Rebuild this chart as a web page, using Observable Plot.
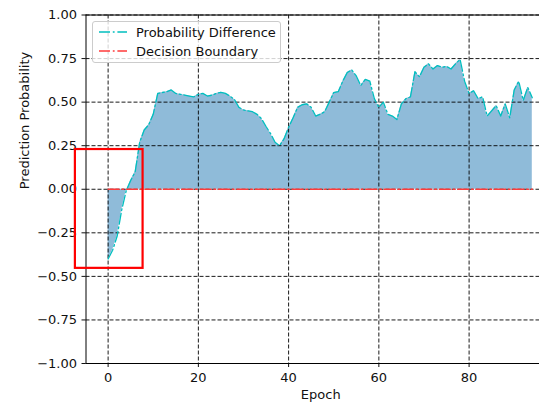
<!DOCTYPE html>
<html>
<head>
<meta charset="utf-8">
<script src="https://cdn.jsdelivr.net/npm/d3@7"></script>
<script src="https://cdn.jsdelivr.net/npm/@observablehq/plot@0.6"></script>
<style>
  body { margin: 0; background: #fff; font-family: "DejaVu Sans", sans-serif; }
  #wrap { position: relative; width: 539px; height: 403px; overflow: hidden; }
  #wrap svg { display: block; }
  .legend { position: absolute; left: 92px; top: 21px; width: 187px; height: 40px;
            border: 1px solid #cccccc; border-radius: 3px; background: rgba(255,255,255,0.8);
            font-size: 13px; color: #111; }
  .legend .row { position: absolute; left: 6px; height: 16px; display: flex; align-items: center; white-space: nowrap; }
  .legend .row svg { margin-right: 9px; }
</style>
</head>
<body>
<div id="wrap"></div>
<script>
// Difference in predicted probability per training epoch
const epochs = d3.range(0, 95);
const probDiff = [
  -0.40, -0.35, -0.27, -0.12, -0.01, 0.05, 0.10, 0.27, 0.34, 0.37,
   0.43,  0.55,  0.555, 0.56,  0.57, 0.55, 0.545, 0.54, 0.535, 0.53,
   0.545, 0.55,  0.535, 0.54,  0.55, 0.556, 0.55, 0.535, 0.515, 0.47,
   0.455, 0.45,  0.445, 0.43,  0.405, 0.36, 0.32, 0.27, 0.25, 0.29,
   0.355, 0.41,  0.47,  0.485, 0.49, 0.47, 0.42, 0.43, 0.445, 0.50,
   0.555, 0.56,  0.62,  0.67,  0.685, 0.65, 0.595, 0.63, 0.62, 0.52,
   0.47,  0.50,  0.43,  0.42,  0.40, 0.49, 0.52, 0.53, 0.675, 0.645,
   0.70,  0.72,  0.69,  0.71,  0.70, 0.705, 0.69, 0.72, 0.745, 0.62,
   0.55,  0.565, 0.52,  0.53,  0.42, 0.45, 0.48, 0.42, 0.49, 0.41,
   0.57,  0.62,  0.51,  0.585, 0.525
];
const decisionBoundary = epochs.map(() => 0);

// Highlighted early-training region (data units)
const highlightEpochs = [-7.25, 7.75];
const highlightProb = [-0.454, 0.228];

const xTicks = [0, 20, 40, 60, 80];
const yTicks = [-1, -0.75, -0.5, -0.25, 0, 0.25, 0.5, 0.75, 1];
const yTickLabels = ["\u22121.00", "\u22120.75", "\u22120.50", "\u22120.25", "0.00", "0.25", "0.50", "0.75", "1.00"];

const series = epochs.map((e, i) => ({epoch: e, diff: probDiff[i], boundary: decisionBoundary[i]}));

const xDomain = [-4.9, 95.6];
const gridStyle = {stroke: "#000", strokeWidth: 0.9, strokeDasharray: "4,2"};
const spine = {stroke: "#000", strokeWidth: 1};

const chart = Plot.plot({
  width: 539,
  height: 403,
  marginLeft: 85.5,
  marginRight: 0,
  marginTop: 14.5,
  marginBottom: 40,
  style: {fontFamily: "DejaVu Sans", fontSize: "13px", color: "#111", background: "#fff", overflow: "hidden"},
  x: {domain: xDomain, ticks: xTicks, tickSize: 4, tickPadding: 5, label: null, tickFormat: d => String(d)},
  y: {domain: [-1, 1], ticks: yTicks, tickSize: 4, tickPadding: 5, label: null,
      tickFormat: d => yTickLabels[yTicks.indexOf(d)]},
  marks: [
    Plot.areaY(series, {x: "epoch", y: "diff", fill: "#1f77b4", fillOpacity: 0.5}),
    Plot.ruleX(xTicks, {...gridStyle}),
    Plot.ruleY(yTicks, {...gridStyle}),
    Plot.lineY(series, {x: "epoch", y: "diff", stroke: "#00bfbf", strokeWidth: 1.3,
                        strokeDasharray: "11,2.8,1.8,2.8"}),
    Plot.lineY(series, {x: "epoch", y: "boundary", stroke: "#ff3b3b", strokeWidth: 1.5,
                        strokeDasharray: "11,2.8,1.8,2.8"}),
    Plot.ruleX([xDomain[0]], spine),
    Plot.ruleY([-1], spine),
    Plot.ruleY([1], spine),
    Plot.rect([0], {x1: () => highlightEpochs[0], x2: () => highlightEpochs[1],
                    y1: () => highlightProb[0], y2: () => highlightProb[1],
                    fill: "none", stroke: "#ff0000", strokeWidth: 2.2}),
    Plot.text(["Epoch"], {text: d => d, frameAnchor: "bottom", dx: 8, dy: 35, fontSize: 13, fill: "#111"}),
    Plot.text(["Prediction Probability"], {text: d => d, frameAnchor: "left", dx: -61, rotate: -90, fontSize: 13, fill: "#111"})
  ]
});

const wrap = document.getElementById("wrap");
wrap.appendChild(chart);

// Legend box in the upper-left corner of the axes
const legend = document.createElement("div");
legend.className = "legend";
legend.innerHTML = `
  <div class="row" style="top:2px">
    <svg width="28" height="6"><line x1="0" y1="3" x2="28" y2="3" stroke="#00bfbf" stroke-width="1.3" stroke-dasharray="11,2.8,1.8,2.8"/></svg>
    <span>Probability Difference</span>
  </div>
  <div class="row" style="top:21px">
    <svg width="28" height="6"><line x1="0" y1="3" x2="28" y2="3" stroke="#ff3b3b" stroke-width="1.5" stroke-dasharray="11,2.8,1.8,2.8"/></svg>
    <span>Decision Boundary</span>
  </div>`;
wrap.appendChild(legend);
</script>
</body>
</html>
